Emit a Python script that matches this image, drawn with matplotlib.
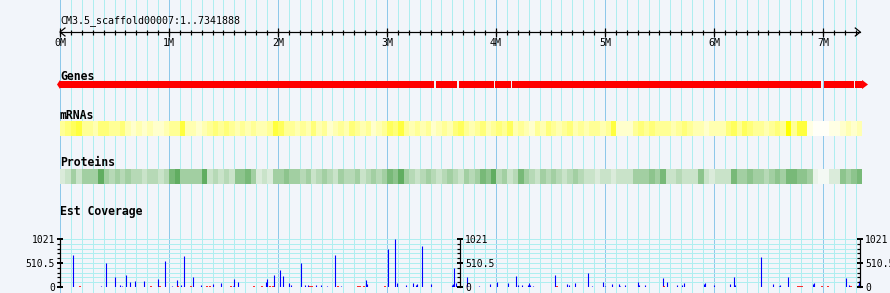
import numpy as np
import matplotlib
matplotlib.use('Agg')
import matplotlib.pyplot as plt
from matplotlib.colors import LinearSegmentedColormap
from matplotlib.ticker import MultipleLocator

plt.rcParams['font.family'] = ['DejaVu Sans Mono', 'DejaVu Sans']

# ---- data ----
region_name = "CM3.5_scaffold00007:1..7341888"
region_end = 7341888 / 1e6  # in Mb

ruler_major = list(range(0, 8))
ruler_labels = [f"{m}M" for m in ruler_major]
ruler_minor_step = 0.1

track_names = ["Genes", "mRNAs", "Proteins", "Est Coverage"]

# gene blocks (Mb), mostly continuous
gene_starts = [0.000, 3.445, 3.660, 3.995, 4.145, 7.005, 7.295]
gene_ends = [3.430, 3.640, 3.985, 4.135, 6.985, 7.285, 7.358]

# density tracks, 50 kb bins, 0 (none) .. 9 (dense)
bin_size = 0.05
mrna_density = [
    4, 5, 6, 7, 4, 4, 3, 5, 5, 4,
    4, 5, 3, 2, 3, 2, 3, 2, 2, 3,
    4, 4, 7, 3, 3, 2, 3, 4, 5, 4,
    5, 4, 3, 4, 3, 4, 3, 3, 4, 7,
    6, 4, 4, 3, 4, 3, 5, 3, 4, 2,
    3, 4, 3, 5, 4, 3, 4, 2, 3, 4,
    6, 5, 7, 4, 3, 4, 3, 4, 2, 3,
    4, 3, 5, 6, 4, 3, 4, 5, 3, 4,
    5, 4, 6, 3, 4, 3, 2, 4, 3, 5,
    4, 3, 4, 5, 3, 4, 3, 4, 4, 3,
    4, 7, 2, 2, 2, 4, 5, 4, 5, 4,
    4, 4, 3, 4, 5, 4, 3, 3, 2, 3,
    3, 3, 5, 6, 4, 6, 5, 4, 4, 3,
    4, 5, 4, 9, 4, 7, 7, 1, 0, 0,
    0, 1, 1, 2, 3, 2, 3,
]
protein_density = [
    2, 3, 5, 3, 5, 5, 5, 8, 5, 4,
    5, 4, 5, 4, 4, 3, 4, 4, 3, 4,
    7, 8, 5, 5, 5, 5, 8, 3, 4, 3,
    4, 3, 6, 6, 7, 5, 2, 3, 2, 5,
    5, 6, 5, 5, 4, 5, 3, 4, 5, 4,
    3, 5, 4, 4, 5, 3, 4, 5, 4, 5,
    7, 6, 8, 5, 4, 3, 4, 5, 4, 3,
    4, 5, 4, 3, 5, 4, 5, 7, 6, 8,
    4, 5, 3, 4, 7, 5, 4, 3, 5, 4,
    5, 4, 3, 4, 5, 4, 3, 3, 2, 3,
    3, 2, 3, 3, 3, 5, 5, 5, 6, 5,
    7, 3, 3, 4, 3, 3, 3, 6, 3, 2,
    3, 3, 3, 7, 5, 5, 6, 5, 5, 4,
    5, 6, 5, 7, 7, 6, 6, 5, 1, 0,
    0, 2, 2, 6, 5, 6, 7,
]

# EST coverage
cov_max = 1021
blue_kb = [122, 379, 425, 507, 553, 572, 608, 645, 691, 773,
           902, 966, 1030, 1076, 1113, 1140, 1223, 1296, 1406, 1480,
           1590, 1599, 1636, 1893, 1902, 1966, 2021, 2049, 2104, 2122,
           2214, 2250, 2278, 2351, 2397, 2452, 2526, 2581, 2810, 2819,
           3012, 3076, 3094, 3177, 3241, 3269, 3278, 3324, 3406, 3599,
           3608, 3617, 3636, 3734, 3847, 3948, 4012, 4113, 4186, 4205,
           4241, 4296, 4305, 4314, 4342, 4544, 4654, 4673, 4728, 4847,
           4884, 4985, 5003, 5067, 5131, 5140, 5186, 5306, 5315, 5370,
           5535, 5569, 5663, 5709, 5727, 5911, 5920, 6003, 6150, 6186,
           6196, 6434, 6544, 6599, 6608, 6682, 6911, 6920, 7214, 7242,
           7324, 7333]
blue_val = [680, 28, 517, 220, 50, 28, 262, 113, 135, 135,
            177, 560, 28, 155, 50, 666, 220, 50, 70, 92,
            28, 177, 113, 113, 177, 262, 369, 241, 92, 50,
            517, 50, 50, 50, 50, 28, 687, 28, 155, 70,
            802, 1021, 92, 50, 92, 50, 70, 879, 70, 50,
            70, 411, 92, 220, 28, 70, 113, 92, 241, 50,
            50, 50, 92, 50, 28, 262, 70, 50, 92, 305,
            28, 113, 28, 70, 70, 28, 50, 113, 50, 50,
            198, 113, 50, 50, 92, 70, 92, 50, 70, 220,
            50, 646, 70, 28, 50, 220, 70, 92, 198, 50,
            50, 135]
red_kb = [183, 838, 920, 1085, 1205, 1351, 1379, 1572, 1783, 1856,
          1929, 1957, 2296, 2315, 2553, 2737, 2755, 2792, 2984, 4562,
          5544, 6773, 6792, 6810, 6993, 7048, 7260]
red_val = [30] * len(red_kb)

# ---- layout (pixels) ----
W, H = 890, 293
px_per_mb = 109.0
x0_px = 60
bg = '#f2f5fa'
grid_major = '#8ec8ea'
grid_minor = '#aeeef0'
px = 72.0 / 100  # one pixel in points

fig = plt.figure(figsize=(W / 100, H / 100), dpi=100, facecolor=bg)
ax = fig.add_axes([0, 0, 1, 1])
ax.set_facecolor(bg)
xlim = (-x0_px / px_per_mb, (W - x0_px) / px_per_mb)
ax.set_xlim(xlim)
ax.set_ylim(H, 0)
ax.axis('off')

# vertical grid every 100 kb
n_grid = int(region_end / ruler_minor_step) + 1
for i in range(n_grid):
    gx = i * ruler_minor_step
    if i % 10 == 0:
        ax.axvline(gx, color=grid_major, lw=px, zorder=0)
    else:
        ax.axvline(gx, color=grid_minor, lw=px, zorder=0)

# ruler
ax.text(0, 21, region_name, ha='left', va='center', fontsize=7.2)
ax.plot([0, region_end], [32, 32], color='black', lw=px * 1.2, zorder=3)
minor_ticks = np.arange(n_grid) * ruler_minor_step
ax.vlines(minor_ticks, 29.5, 34.5, color='black', lw=px * 1.2, zorder=3)
ax.vlines(ruler_major, 27.5, 36.5, color='black', lw=px * 1.2, zorder=3)
for m, lab in zip(ruler_major, ruler_labels):
    ax.text(m, 43, lab, ha='center', va='center', fontsize=7.2)
ah = 5 / px_per_mb
ax.plot([ah, 0, ah], [28, 32, 36], color='black', lw=px * 1.2, zorder=3)
ax.plot([region_end - ah, region_end, region_end - ah], [28, 32, 36],
        color='black', lw=px * 1.2, zorder=3)

# track labels
label_y = [76, 115.5, 163, 211]
for name, ly in zip(track_names, label_y):
    ax.text(0, ly, name, ha='left', va='center', fontsize=8.3,
            fontweight='bold')

# genes
gene_blocks = [(s, e - s) for s, e in zip(gene_starts, gene_ends)]
ax.broken_barh(gene_blocks, (81, 7), facecolors='#ff0000', zorder=3)
head = 6 / px_per_mb
ax.fill([gene_starts[0], gene_starts[0] - 3 / px_per_mb, gene_starts[0]],
        [80, 84.5, 89], color='#ff0000', zorder=3, lw=0)
ax.fill([gene_ends[-1], gene_ends[-1] + head, gene_ends[-1]],
        [80, 84.5, 89], color='#ff0000', zorder=3, lw=0)

# density tracks
def density_cmap(lo, hi):
    return LinearSegmentedColormap.from_list('d', [lo, hi])

mrna_cmap = density_cmap('#fffff8', '#ffff00')
prot_cmap = density_cmap('#f4f9f4', '#4aa24a')
dens_end = len(mrna_density) * bin_size
m = (np.array(mrna_density) / 9.0) ** 1.15
p = (np.array(protein_density) / 9.0) ** 1.25
ax.imshow(m[np.newaxis, :], cmap=mrna_cmap, vmin=0, vmax=1, aspect='auto',
          interpolation='nearest', extent=(0, dens_end, 136, 121), zorder=2)
ax.imshow(p[np.newaxis, :], cmap=prot_cmap, vmin=0, vmax=1, aspect='auto',
          interpolation='nearest', extent=(0, dens_end, 184, 169), zorder=2)
ax.set_xlim(xlim)
ax.set_ylim(H, 0)

# coverage panel
cov_top, cov_bot = 239, 287
cax = fig.add_axes([0, (H - cov_bot) / H, 1, (cov_bot - cov_top) / H])
cax.set_xlim(xlim)
cax.set_ylim(0, cov_max)
cax.axis('off')
cax.patch.set_visible(False)
levels = np.arange(11) * cov_max / 10.0
cax.hlines(levels[:-1], 0, region_end, color=grid_minor, lw=px, zorder=1)
cax.hlines([cov_max], 0, region_end, color=grid_minor, lw=px * 2, zorder=1)
cax.vlines(np.array(blue_kb) / 1000.0, 0, blue_val, color='#0000ff',
           lw=px * 1.1, zorder=3)
cax.vlines(np.array(red_kb) / 1000.0, 0, red_val, color='#ff0000',
           lw=px * 1.6, zorder=3)

# three y axes (left, middle, right)
for k, pos in enumerate([0, region_end / 2, region_end]):
    fx = (x0_px + pos * px_per_mb) / W
    yax = fig.add_axes([fx, (H - cov_bot) / H, 1e-6,
                        (cov_bot - cov_top) / H])
    yax.patch.set_visible(False)
    for s in ['top', 'bottom', 'right']:
        yax.spines[s].set_visible(False)
    yax.spines['left'].set_linewidth(px * 1.2)
    yax.set_ylim(0, cov_max)
    yax.set_xticks([])
    yax.set_yticks([0, cov_max / 2, cov_max])
    yax.set_yticklabels(['0', '510.5', '1021'])
    yax.yaxis.set_minor_locator(MultipleLocator(cov_max / 10.0))
    yax.tick_params(axis='y', which='major', direction='inout', length=5,
                    width=1.4, labelsize=7, pad=1)
    yax.tick_params(axis='y', which='minor', direction='out', length=2.5,
                    width=px * 1.2)
    if k > 0:
        yax.tick_params(axis='y', which='both', labelleft=False,
                        labelright=True, right=False, pad=1)

fig.savefig('out.png', dpi=100, facecolor=bg)
